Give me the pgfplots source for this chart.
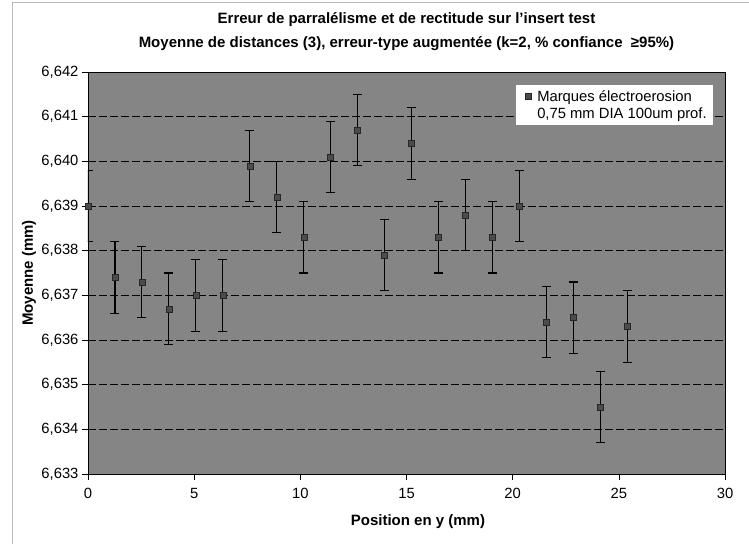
\documentclass[border=0pt]{standalone}
\usepackage{fontspec}
\setmainfont{Liberation Sans}
\usepackage{pgfplots}
\usepackage{pgfplotstable}
\pgfplotsset{compat=1.18}

\definecolor{fondgris}{gray}{0.52}
\definecolor{marque}{gray}{0.3}

% position (mm), moyenne (mm), erreur-type augmentee
\pgfplotstableread{
x      y       e
0.00   6.6390  0.0008
1.27   6.6374  0.0008
2.54   6.6373  0.0008
3.81   6.6367  0.0008
5.08   6.6370  0.0008
6.35   6.6370  0.0008
7.62   6.6399  0.0008
8.89   6.6392  0.0008
10.16  6.6383  0.0008
11.43  6.6401  0.0008
12.70  6.6407  0.0008
13.97  6.6379  0.0008
15.24  6.6404  0.0008
16.51  6.6383  0.0008
17.78  6.6388  0.0008
19.05  6.6383  0.0008
20.32  6.6390  0.0008
21.59  6.6364  0.0008
22.86  6.6365  0.0008
24.13  6.6345  0.0008
25.40  6.6363  0.0008
}\mesures

\begin{document}
\begin{tikzpicture}
\useasboundingbox (0,0) rectangle (749pt,-544pt);
\draw[gray!55, line width=0.6pt] (12pt,-544pt) -- (12pt,-2pt) -- (749pt,-2pt);
\begin{axis}[
  at={(88pt,-474pt)}, anchor=south west,
  width=637pt, height=402pt, scale only axis,
  xmin=0, xmax=30, ymin=6.633, ymax=6.642,
  xtick={0,5,...,30},
  ytick={6.633,6.634,6.635,6.636,6.637,6.638,6.639,6.640,6.641,6.642},
  tick align=outside, major tick length=6pt,
  xtick pos=bottom, ytick pos=left,
  tick style={black, line width=0.6pt},
  axis line style={black, line width=0.8pt},
  axis background/.style={fill=fondgris},
  ymajorgrids,
  major grid style={black, line width=0.7pt, dash pattern=on 8pt off 3pt},
  /pgf/number format/.cd, fixed, fixed zerofill, precision=3, use comma,
    1000 sep={}, assume math mode=true,
  /pgfplots/.cd,
  xticklabel style={/pgf/number format/precision=0, font=\fontsize{14.8}{17}\selectfont, yshift=-5pt},
  yticklabel style={font=\fontsize{14.8}{17}\selectfont},
  title={Erreur de parralélisme et de rectitude sur l'insert test\\
         Moyenne de distances (3), erreur-type augmentée (k=2, \% confiance \ ≥95\%)},
  title style={at={(axis description cs:0.5,1)}, anchor=center, yshift=34pt,
    align=center, font=\bfseries\fontsize{15}{24}\selectfont},
  xlabel={Position en y (mm)},
  xlabel style={at={(axis description cs:0.518,-0.1194)}, anchor=center,
    font=\bfseries\fontsize{15}{18}\selectfont},
  ylabel={Moyenne (mm)},
  ylabel style={at={(axis description cs:-0.0926,0.5)}, anchor=center,
    font=\bfseries\fontsize{15}{18}\selectfont},
  legend style={at={(axis description cs:0.981,0.9677)}, anchor=north east,
    fill=white, draw=none, font=\fontsize{14.8}{17}\selectfont,
    row sep=1pt, column sep=4pt, inner xsep=4pt, inner ysep=3pt},
  legend cell align=left,
  clip mode=individual,
]
\addplot[only marks, mark=square*, mark size=3pt,
         mark options={fill=marque, draw=black!85},
         error bars/.cd, y dir=both, y explicit,
         error bar style={black, line width=1.1pt},
         error mark options={rotate=90, mark size=4.5pt, line width=1.1pt, black}]
  table[x=x, y=y, y error=e] {\mesures};
\addlegendentry{Marques électroerosion}
\addlegendimage{empty legend}
\addlegendentry{0,75 mm DIA 100um prof.}
\end{axis}
\end{tikzpicture}
\end{document}
